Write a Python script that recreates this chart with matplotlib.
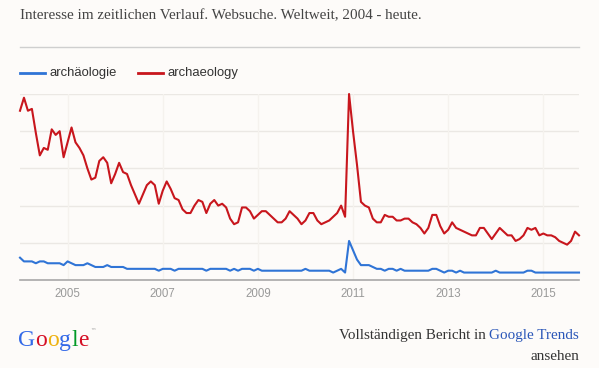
import numpy as np
import matplotlib
matplotlib.use("Agg")
import matplotlib.pyplot as plt

# ---------------- data (monthly, Jan 2004 - Oct 2015) ----------------
archaeology = [
    91, 98, 91, 92, 79, 67, 71, 70, 81, 78, 80, 66, 74, 82, 74, 71, 67, 60, 54, 55,
    64, 66, 63, 52, 57, 63, 58, 57, 51, 46, 41, 46, 51, 53, 51, 41, 48, 53, 49, 44,
    43, 38, 36, 36, 40, 43, 42, 36, 41, 43, 40, 41, 39, 33, 30, 31, 39, 39, 37, 33,
    35, 37, 37, 35, 33, 31, 31, 33, 37, 35, 33, 30, 32, 36, 36, 32, 30, 31, 32, 34,
    36, 40, 34, 100, 80, 62, 42, 40, 39, 33, 31, 31, 35, 34, 34, 32, 32, 33, 33, 31,
    30, 28, 25, 28, 35, 35, 29, 25, 27, 31, 28, 27, 26, 25, 24, 24, 28, 28, 25, 22,
    25, 28, 26, 24, 24, 21, 22, 24, 28, 27, 28, 24, 25, 24, 24, 23, 21, 20, 19, 21, 26, 24,
]
archaeologie = [
    12, 10, 10, 10, 9, 10, 10, 9, 9, 9, 9, 8, 10, 9, 8, 8, 8, 9, 8, 7,
    7, 7, 8, 7, 7, 7, 7, 6, 6, 6, 6, 6, 6, 6, 6, 5, 6, 6, 6, 5,
    6, 6, 6, 6, 6, 6, 6, 5, 6, 6, 6, 6, 6, 5, 6, 5, 6, 6, 6, 5,
    6, 5, 5, 5, 5, 5, 5, 5, 5, 5, 5, 5, 6, 5, 5, 5, 5, 5, 5, 4,
    5, 6, 4, 21, 16, 11, 8, 8, 8, 7, 6, 6, 5, 6, 6, 5, 6, 5, 5, 5,
    5, 5, 5, 5, 6, 6, 5, 4, 5, 5, 4, 5, 4, 4, 4, 4, 4, 4, 4, 4,
    5, 4, 4, 4, 4, 4, 4, 4, 5, 5, 4, 4, 4, 4, 4, 4, 4, 4, 4, 4, 4, 4,
]
series_names = ["archäologie", "archaeology"]
start_year = 2004
tick_years = [2005, 2007, 2009, 2011, 2013, 2015]
y_grid = [20, 40, 60, 80, 100]

title = "Interesse im zeitlichen Verlauf. Websuche. Weltweit, 2004 - heute."

# ---------------- style ----------------
BG = "#fdfbf9"
BLUE = "#2f74d6"
RED = "#c8161d"
W, H = 599, 368

fig = plt.figure(figsize=(W / 100, H / 100), dpi=100, facecolor=BG)

def fx(px):
    return px / W

def fy(py):
    return 1 - py / H

ax_left, ax_right, ax_top, ax_bottom = 20, 579, 94, 280
ax = fig.add_axes([fx(ax_left), fy(ax_bottom), fx(ax_right - ax_left), (ax_bottom - ax_top) / H])
ax.set_facecolor(BG)

x = np.arange(len(archaeology))
ax.plot(x, archaeologie, color=BLUE, lw=1.5, solid_joinstyle="round", clip_on=False, zorder=3)
ax.plot(x, archaeology, color=RED, lw=1.5, solid_joinstyle="round", clip_on=False, zorder=3)

ax.set_xlim(0, len(archaeology) - 1)
ax.set_ylim(0, 100)

for v in y_grid:
    ax.axhline(v, color="#ebe8e4", lw=1, zorder=1)
tick_pos = [(yr - start_year) * 12 for yr in tick_years]
for t in tick_pos:
    ax.axvline(t, color="#f5f2ee", lw=1, zorder=1)

ax.set_xticks(tick_pos)
ax.set_xticklabels([str(y) for y in tick_years], fontsize=8.3, color="#999999",
                   family="Liberation Sans")
ax.tick_params(axis="x", length=0, pad=6)
ax.set_yticks([])
for s in ["top", "right", "left"]:
    ax.spines[s].set_visible(False)
ax.spines["bottom"].set_color("#a8a8a8")
ax.spines["bottom"].set_linewidth(1.2)

# ---------------- title & header line ----------------
fig.text(fx(20), fy(16), title, family="Liberation Serif", fontsize=10.9,
         color="#444444", va="center", ha="left")
fig.add_artist(plt.Line2D([fx(20), fx(579)], [fy(47), fy(47)], color="#cfcfcf", lw=1))

# ---------------- legend ----------------
leg_y = fy(73)
fig.add_artist(plt.Line2D([fx(20), fx(45)], [leg_y, leg_y], color=BLUE, lw=2))
fig.text(fx(50), leg_y, series_names[0], family="Liberation Sans", fontsize=9.4,
         color="#333333", va="center", ha="left")
fig.add_artist(plt.Line2D([fx(138), fx(163)], [leg_y, leg_y], color=RED, lw=2))
fig.text(fx(168), leg_y, series_names[1], family="Liberation Sans", fontsize=9.4,
         color="#333333", va="center", ha="left")

# ---------------- footer ----------------
fig.canvas.draw()
renderer = fig.canvas.get_renderer()

blue_t = fig.text(fx(579), fy(336), "Google Trends", family="Liberation Serif",
                  fontsize=10.9, color="#2a56b8", va="center", ha="right")
bb = blue_t.get_window_extent(renderer)
fig.text((bb.x0 - 3.5) / W, fy(336), "Vollständigen Bericht in", family="Liberation Serif",
         fontsize=10.9, color="#333333", va="center", ha="right")
fig.text(fx(579), fy(356), "ansehen", family="Liberation Serif",
         fontsize=10.9, color="#333333", va="center", ha="right")

logo_letters = [("G", "#3369e8"), ("o", "#d50f25"), ("o", "#eeb211"),
                ("g", "#3369e8"), ("l", "#009925"), ("e", "#d50f25")]
cur_x = 18
for ch, col in logo_letters:
    t = fig.text(cur_x / W, fy(346), ch, family="Liberation Serif", fontsize=17,
                 color=col, va="baseline", ha="left")
    e = t.get_window_extent(renderer)
    cur_x = e.x1 + 0.2
fig.text((cur_x + 1.0) / W, fy(333), "™", family="DejaVu Sans", fontsize=4,
         color="#999999", va="baseline", ha="left")

fig.savefig("out.png", dpi=100, facecolor=BG)
